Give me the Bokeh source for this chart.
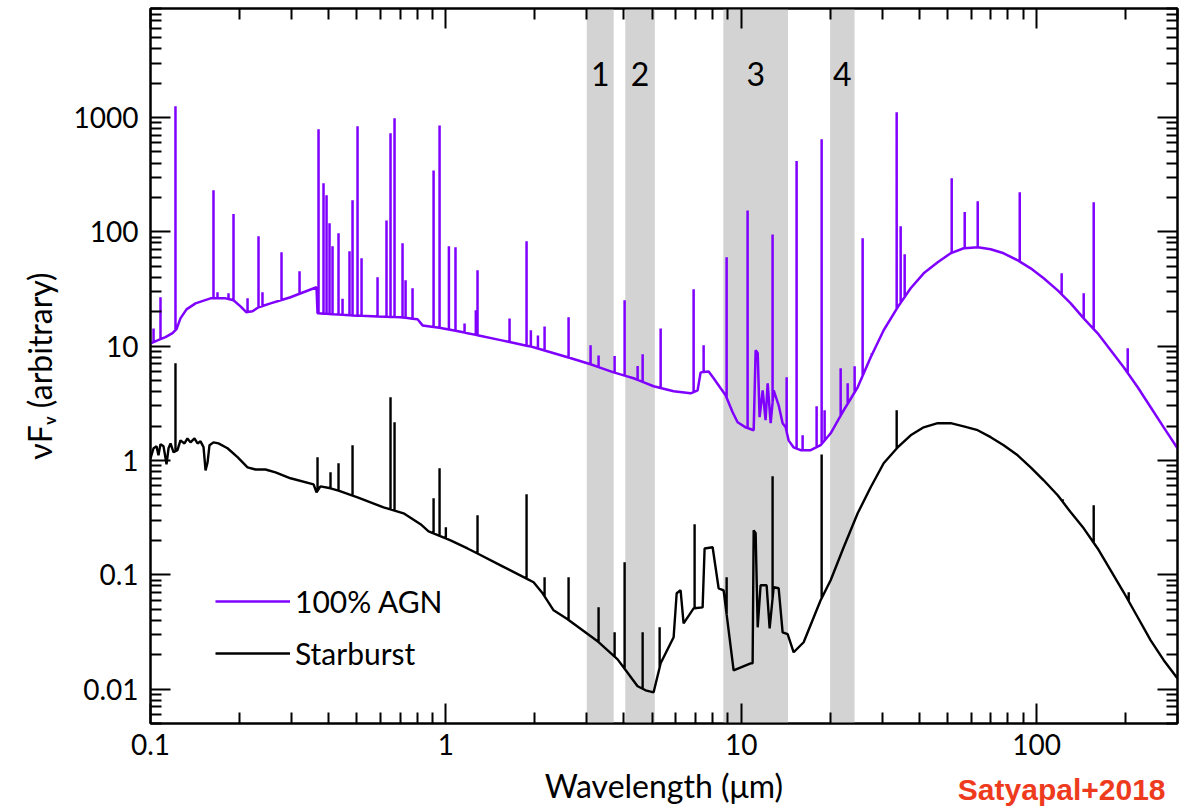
import numpy as np
from bokeh.plotting import figure
from bokeh.models import (LogAxis, FixedTicker, BoxAnnotation, Label, Legend,
                          LegendItem, Title)
from bokeh.embed import file_html
from bokeh.resources import INLINE

# ---------------------------------------------------------------- data
# 100% AGN model: continuum (wavelength in micron, nuF_nu arbitrary)
agn_wl = [0.100, 0.1124, 0.1187, 0.1225, 0.1263, 0.1324, 0.142, 0.1597, 0.1795,
          0.191, 0.2017, 0.2114, 0.2215, 0.2321, 0.2549, 0.2979, 0.3648, 0.3677,
          0.4755, 0.7023, 0.8019, 0.834, 0.9815, 1.184, 1.532, 1.982, 2.584,
          3.09, 3.698, 4.322, 5.051, 5.904, 6.742, 7.118, 7.288, 7.757, 8.065,
          8.517, 8.856, 9.353, 9.723, 10.35, 11.02, 11.19, 11.37, 11.54, 11.82,
          12.09, 12.29, 12.58, 12.88, 13.39, 13.81, 14.14, 14.47, 15.05, 15.9,
          17.18, 18.57, 20.08, 22.23, 24.79, 27.44, 30.36, 33.85, 37.47, 41.47,
          46.26, 51.19, 56.65, 63.18, 69.92, 77.37, 86.3, 95.5, 105.7, 117.9,
          130.5, 144.4, 161.0, 178.2, 197.2, 220.0, 243.4, 269.4, 300.0]
agn_flux = [10.6, 12.0, 13.0, 14.1, 17.5, 21.0, 23.7, 26.2, 26.2,
            25.2, 22.3, 19.8, 20.2, 21.9, 23.7, 26.8, 32.8, 19.4,
            18.6, 17.9, 17.2, 15.2, 14.3, 13.0, 11.3, 9.8, 8.0,
            6.95, 5.9, 5.24, 4.46, 4.03, 3.87, 4.11, 5.9, 6.0, 5.24,
            4.28, 3.72, 2.64, 2.16, 1.95, 1.84, 9.2, 8.7, 2.39, 4.11,
            2.25, 4.74, 2.12, 4.11, 3.04, 2.12, 1.95, 1.50, 1.30, 1.23,
            1.23, 1.36, 1.73, 2.75, 4.37, 8.0, 13.78, 21.9, 32.1, 43.4,
            54.2, 65.0, 71.9, 73.3, 70.4, 65.0, 56.4, 48.0, 39.3, 30.8,
            23.7, 17.5, 12.97, 9.2, 6.54, 4.37, 2.92, 1.95, 1.28]
# AGN emission lines: wavelength and peak value
agn_line_wl = [0.1024, 0.1081, 0.1215, 0.1634, 0.1686, 0.1837, 0.191, 0.2131,
               0.2321, 0.2394, 0.2777, 0.3196, 0.3706, 0.3853, 0.3945, 0.4038,
               0.4133, 0.4331, 0.4469, 0.4718, 0.4831, 0.5023, 0.5183, 0.5871,
               0.6296, 0.6496, 0.6703, 0.7134, 0.7305, 0.7713, 0.9087, 0.9521,
               1.024, 1.078, 1.157, 1.263, 1.280, 1.643, 1.876, 1.94, 2.05,
               2.159, 2.603, 3.09, 3.289, 3.727, 4.029, 4.459, 4.637, 5.336,
               6.9, 7.46, 8.925, 10.51, 12.77, 14.25, 15.4, 16.14, 18.0, 18.72,
               19.16, 21.71, 22.93, 24.21, 25.77, 27.65, 33.6, 34.66, 35.76,
               51.6, 57.1, 63.2, 87.7, 121.6, 144.4, 156.1, 203.5]
agn_line_peak = [14.3, 26.8, 1256, 231, 29.6, 29.0, 143, 26.3,
                 91.5, 29.6, 66.4, 45.3, 789, 266, 209, 119,
                 74.8, 97.3, 26.0, 67.6, 189, 840, 58.8, 40.1,
                 126, 730, 986, 79.4, 37.7, 32.1, 344, 851,
                 74.8, 73.3, 15.8, 20.6, 46.1, 17.5, 82.8, 13.8, 12.4,
                 14.9, 17.9, 10.2, 8.3, 8.2, 25.2, 6.7, 8.5, 14.3,
                 31.5, 10.2, 60, 154, 95, 5.35, 416, 1.66, 2.98, 647,
                 2.75, 6.4, 4.74, 6.67, 88, 8.67, 1112, 112, 63.7,
                 294, 149, 185, 222, 43.4, 29.0, 182, 9.6]

# Starburst model: continuum
sb_wl = [0.1, 0.1024, 0.1048, 0.1064, 0.1081, 0.1107, 0.1133, 0.1151, 0.1169,
         0.1197, 0.1234, 0.1263, 0.1303, 0.1334, 0.1366, 0.1409, 0.1443, 0.1477,
         0.1512, 0.1536, 0.156, 0.1584, 0.1634, 0.1699, 0.1823, 0.1971, 0.2131,
         0.2268, 0.2451, 0.265, 0.2979, 0.3565, 0.3648, 0.3763, 0.4069, 0.4298,
         0.5023, 0.6152, 0.7191, 0.8209, 0.8739, 1.037, 1.184, 1.532, 1.982,
         2.126, 2.316, 2.584, 3.264, 3.815, 4.459, 4.746, 5.051, 5.336, 5.904,
         6.046, 6.234, 6.381, 6.9, 7.401, 7.517, 8.002, 8.386, 8.719, 9.425,
         10.76, 10.93, 11.02, 11.19, 11.37, 11.63, 12.19, 12.48, 12.88, 13.39,
         13.81, 14.36, 15.05, 16.27, 18.57, 20.08, 22.23, 24.79, 27.44, 30.36,
         33.85, 37.47, 41.47, 46.26, 51.19, 56.65, 63.18, 69.92, 77.37, 86.3,
         95.5, 105.7, 117.9, 130.5, 144.4, 161.0, 178.2, 197.2, 220.0, 243.4,
         269.4, 300.0]
sb_flux = [1.045, 1.28, 1.33, 1.11, 1.39, 1.33, 0.926, 1.28, 1.41,
           1.18, 1.23, 1.50, 1.41, 1.56, 1.44, 1.56, 1.41, 1.47,
           1.31, 0.82, 0.96, 1.36, 1.44, 1.41, 1.28, 1.07, 0.872,
           0.834, 0.834, 0.788, 0.699, 0.619, 0.527, 0.594, 0.571, 0.548,
           0.476, 0.389, 0.345, 0.277, 0.240, 0.200, 0.170, 0.121, 0.086,
           0.0689, 0.0489, 0.0408, 0.0262, 0.0182, 0.0106, 0.00976, 0.00937, 0.0168, 0.0284,
           0.0689, 0.0732, 0.0376, 0.0509, 0.0519, 0.170, 0.174, 0.0762, 0.0732, 0.0146,
           0.0168, 0.0168, 0.245, 0.231, 0.0347, 0.081, 0.081, 0.034, 0.0778, 0.0762,
           0.0314, 0.0302, 0.0210, 0.0257, 0.0598, 0.0895, 0.174, 0.345, 0.583, 0.945,
           1.30, 1.66, 1.95, 2.12, 2.12, 1.99, 1.84, 1.60, 1.36, 1.11,
           0.872, 0.671, 0.496, 0.352, 0.255, 0.170, 0.1095, 0.0703, 0.0425, 0.0267,
           0.0179, 0.0124]
# Starburst emission lines
sb_line_wl = [0.1215, 0.3677, 0.4069, 0.4331, 0.4831, 0.6496, 0.6703, 0.9087,
              0.9521, 1.0, 1.28, 1.876, 2.159, 2.603, 3.289, 3.727, 4.029,
              4.637, 5.294, 6.953, 8.925, 12.77, 18.72, 33.6, 122.6, 156.1, 205.1]
sb_line_peak = [7.09, 1.07, 0.788, 0.945, 1.36, 3.57, 2.16, 0.467,
                0.855, 0.26, 0.331, 0.506, 0.0951, 0.0951, 0.0519, 0.0314, 0.1286,
                0.0314, 0.0347, 0.277, 0.0951, 0.727, 1.13, 2.75, 0.458, 0.405, 0.0703]

# shaded filter bands (micron) and their labels
band_lo = [3.0, 4.05, 8.7, 20.0]
band_hi = [3.7, 5.1, 14.4, 24.2]
band_names = ["1", "2", "3", "4"]

x_ticks = [0.1, 1, 10, 100]
x_tick_labels = ["0.1", "1", "10", "100"]
y_ticks = [0.01, 0.1, 1, 10, 100, 1000]
y_tick_labels = ["0.01", "0.1", "1", "10", "100", "1000"]
x_minor = [m * d for d in (0.1, 1, 10, 100) for m in range(2, 10)]
y_minor = [m * d for d in (0.001, 0.01, 0.1, 1, 10, 100, 1000) for m in range(2, 10)]

AGN_COLOR = "#7f00ff"
SB_COLOR = "#000000"
FONT = "Lato"


def spectrum(cont_wl, cont_f, line_wl, line_pk):
    """Continuum polyline with each emission line inserted as a narrow spike."""
    lw = np.log10(cont_wl)
    lf = np.log10(cont_f)
    xs = list(cont_wl)
    ys = list(cont_f)
    for w, pk in zip(line_wl, line_pk):
        base = 10 ** np.interp(np.log10(w), lw, lf)
        xs += [w, w, w]
        ys += [base, pk, base]
    order = np.argsort(np.array(xs), kind="stable")
    return np.array(xs)[order], np.array(ys)[order]


# ---------------------------------------------------------------- figure
p = figure(width=1186, height=808, x_axis_type="log", y_axis_type="log",
           x_range=(0.1, 300), y_range=(0.005, 9000),
           output_backend="svg", toolbar_location=None,
           min_border_left=150, min_border_right=9,
           min_border_top=8, min_border_bottom=85,
           background_fill_color="white", border_fill_color="white")
p.xgrid.visible = False
p.ygrid.visible = False
p.outline_line_color = "black"
p.outline_line_width = 2

for lo, hi in zip(band_lo, band_hi):
    p.add_layout(BoxAnnotation(left=lo, right=hi, fill_color="#d3d3d3",
                               fill_alpha=1.0, line_color=None, level="underlay"))

ax, ay = spectrum(agn_wl, agn_flux, agn_line_wl, agn_line_peak)
sx, sy = spectrum(sb_wl, sb_flux, sb_line_wl, sb_line_peak)
r_agn = p.line(ax, ay, line_color=AGN_COLOR, line_width=2.5)
r_sb = p.line(sx, sy, line_color=SB_COLOR, line_width=2.4)

# ---------------------------------------------------------------- axes
bottom = p.below[0]
left = p.left[0]
xt = FixedTicker(ticks=x_ticks, minor_ticks=x_minor)
yt = FixedTicker(ticks=y_ticks, minor_ticks=y_minor)
bottom.ticker = xt
left.ticker = yt
bottom.major_label_overrides = dict(zip(x_ticks, x_tick_labels))
left.major_label_overrides = dict(zip(y_ticks, y_tick_labels))
bottom.major_label_standoff = 10
left.major_label_standoff = 12

bottom.axis_label = "Wavelength (\u03bcm)"
bottom.axis_label_standoff = 8
left.axis_label = "\u03bdF\u1d65 (arbitrary)"
left.axis_label_standoff = 12
for axis in (bottom, left):
    axis.major_label_text_font = FONT
    axis.major_label_text_font_size = "28px"
    axis.major_label_text_color = "black"
    axis.axis_label_text_font = FONT
    axis.axis_label_text_font_size = "32px"
    axis.axis_label_text_font_style = "normal"
    axis.axis_label_text_color = "black"

top = LogAxis(ticker=xt, major_label_overrides={t: "" for t in x_ticks},
              major_label_text_font_size="1px", major_label_standoff=0)
right = LogAxis(ticker=yt, major_label_overrides={t: "" for t in y_ticks},
                major_label_text_font_size="1px", major_label_standoff=0)
p.add_layout(top, "above")
p.add_layout(right, "right")

for axis in (bottom, left, top, right):
    axis.axis_line_color = "black"
    axis.axis_line_width = 2
    axis.major_tick_in = 20
    axis.major_tick_out = 0
    axis.minor_tick_in = 11
    axis.minor_tick_out = 0
    axis.major_tick_line_width = 2
    axis.minor_tick_line_width = 2
    axis.major_tick_line_color = "black"
    axis.minor_tick_line_color = "black"

# band numbers
for lo, hi, name in zip(band_lo, band_hi, band_names):
    p.add_layout(Label(x=float(np.sqrt(lo * hi)), y=73, x_units="data", y_units="canvas",
                       text=name, text_font=FONT, text_font_size="32px",
                       text_align="center", text_baseline="middle", text_color="black"))

# citation, sharing the row of the x-axis title
p.add_layout(Title(text="Satyapal+2018", align="right", vertical_align="top",
                   offset=12, standoff=-70, text_font="Liberation Sans",
                   text_font_size="30px", text_font_style="bold",
                   text_color="#ee3b1e"), "below")

# legend
legend = Legend(items=[LegendItem(label="100% AGN", renderers=[r_agn]),
                       LegendItem(label="Starburst", renderers=[r_sb])],
                location=(65, 50), border_line_color=None, background_fill_alpha=0,
                label_text_font=FONT, label_text_font_size="30px",
                label_text_color="black", glyph_width=75, glyph_height=40,
                label_height=40, spacing=12, padding=0, margin=0, label_standoff=5)
p.add_layout(legend)

open("out.html", "w").write(file_html(p, INLINE))
